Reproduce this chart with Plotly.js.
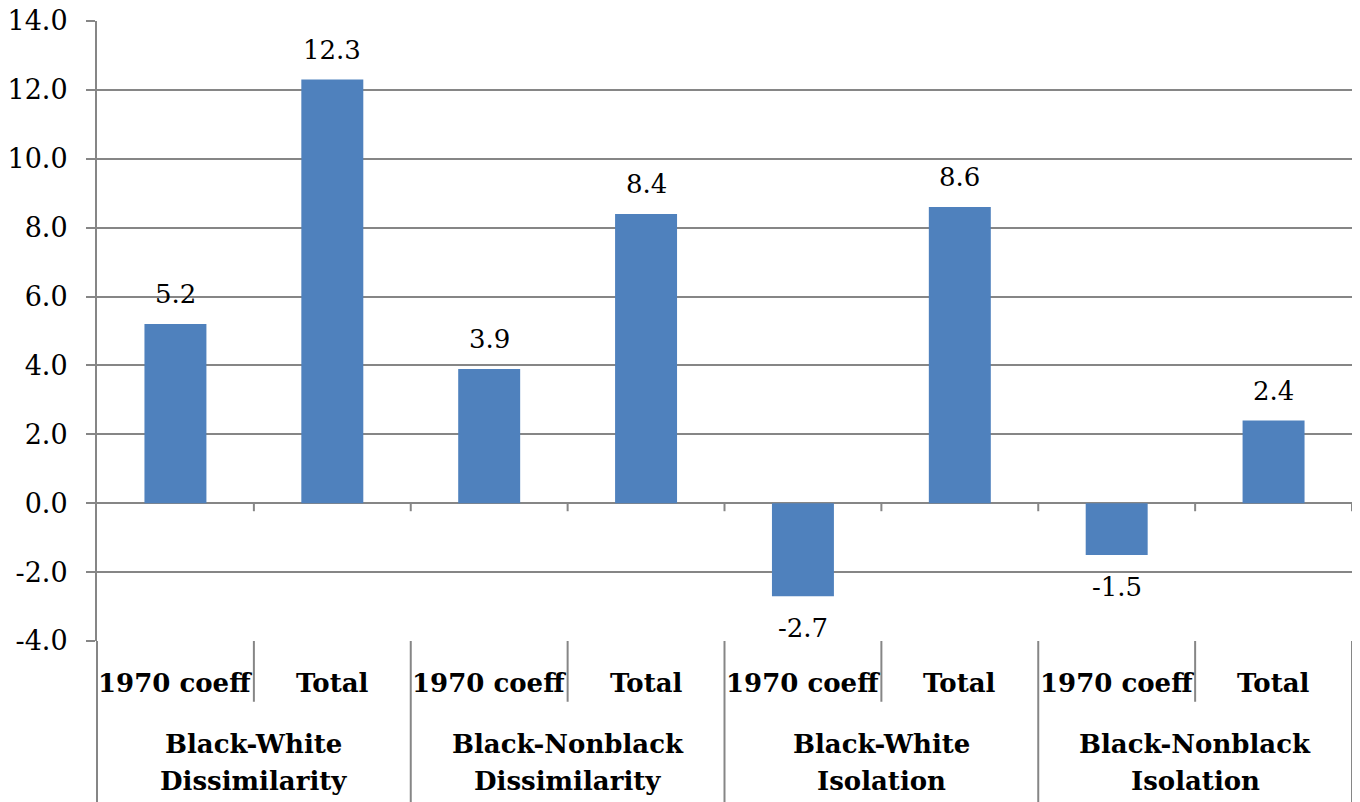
<!DOCTYPE html>
<html>
<head>
<meta charset="utf-8">
<script src="https://cdn.plot.ly/plotly-3.0.1.min.js"></script>
<style>html,body{margin:0;padding:0;background:#fff;}#chart{width:1360px;height:802px;}</style>
</head>
<body>
<div id="chart"></div>
<script>
const subLabels = ["1970 coeff", "Total", "1970 coeff", "Total", "1970 coeff", "Total", "1970 coeff", "Total"];
const groupLabels = ["Black-White\nDissimilarity", "Black-Nonblack\nDissimilarity", "Black-White\nIsolation", "Black-Nonblack\nIsolation"];
const values = [5.2, 12.3, 3.9, 8.4, -2.7, 8.6, -1.5, 2.4];
const yTickVals = [-4, -2, 0, 2, 4, 6, 8, 10, 12, 14];
const yTickText = ["-4.0", "-2.0", "0.0", "2.0", "4.0", "6.0", "8.0", "10.0", "12.0", "14.0"];
const categories = subLabels.map((s, i) => "c" + i);

const grey = "#868686";
const font = "DejaVu Serif";

const shapes = [];
const annotations = [];
const lineStyle = {color: grey, width: 2};

// Short ticks on the zero line at each category boundary
for (let i = 0; i < categories.length; i++) {
  shapes.push({type: "line", xref: "x", yref: "y", x0: i + 0.5, x1: i + 0.5,
    ysizemode: "pixel", yanchor: 0, y0: 0, y1: -8, line: lineStyle});
}
// Category table lines below the plot
for (let i = 0; i <= categories.length; i++) {
  const isGroup = i % 2 === 0;
  shapes.push({type: "line", xref: "x", yref: "paper", x0: i - 0.5, x1: i - 0.5,
    y0: 0, y1: isGroup ? -0.26 : -0.098, line: lineStyle});
}

// Value labels
values.forEach((v, i) => {
  annotations.push({x: categories[i], y: v, xref: "x", yref: "y", text: v.toFixed(1),
    showarrow: false, yanchor: v >= 0 ? "bottom" : "top", yshift: v >= 0 ? 13 : -15,
    font: {family: font, size: 26, color: "#000"}});
});
// Sub-category labels
subLabels.forEach((s, i) => {
  annotations.push({x: categories[i], y: -0.068, xref: "x", yref: "paper", text: "<b>" + s + "</b>",
    showarrow: false, yanchor: "middle", font: {family: font, size: 26, color: "#000"}});
});
// Group labels
groupLabels.forEach((g, j) => {
  const lines = g.split("\n");
  lines.forEach((ln, k) => {
    annotations.push({x: 2 * j + 0.5, y: k === 0 ? -0.166 : -0.226, xref: "x", yref: "paper",
      text: "<b>" + ln + "</b>", showarrow: false, yanchor: "middle",
      font: {family: font, size: 26, color: "#000"}});
  });
});

const trace = {
  type: "bar", x: categories, y: values,
  marker: {color: "#4F81BD", line: {width: 0}},
  hoverinfo: "skip"
};

const layout = {
  width: 1360, height: 802,
  margin: {l: 97, r: 8, t: 21, b: 161},
  paper_bgcolor: "#fff", plot_bgcolor: "#fff",
  showlegend: false,
  bargap: 0.605,
  xaxis: {type: "category", range: [-0.5, 7.5], showticklabels: false, showgrid: false,
    zeroline: false, showline: false, ticks: "", fixedrange: true},
  yaxis: {range: [-4, 14], tickmode: "array", tickvals: yTickVals, ticktext: yTickText,
    showgrid: true, gridcolor: grey, gridwidth: 2,
    zeroline: true, zerolinecolor: grey, zerolinewidth: 2,
    showline: true, linecolor: grey, linewidth: 2,
    ticks: "outside", ticklen: 9, tickcolor: grey, tickwidth: 2,
    ticklabelstandoff: 13,
    tickfont: {family: font, size: 27, color: "#000"}},
  shapes: shapes,
  annotations: annotations
};

// Extend the left axis line down through the label table
shapes.push({type: "line", xref: "paper", yref: "paper", x0: 0, x1: 0, y0: 0, y1: -0.26, line: lineStyle});

Plotly.newPlot("chart", [trace], layout, {displayModeBar: false, staticPlot: true});
</script>
</body>
</html>
